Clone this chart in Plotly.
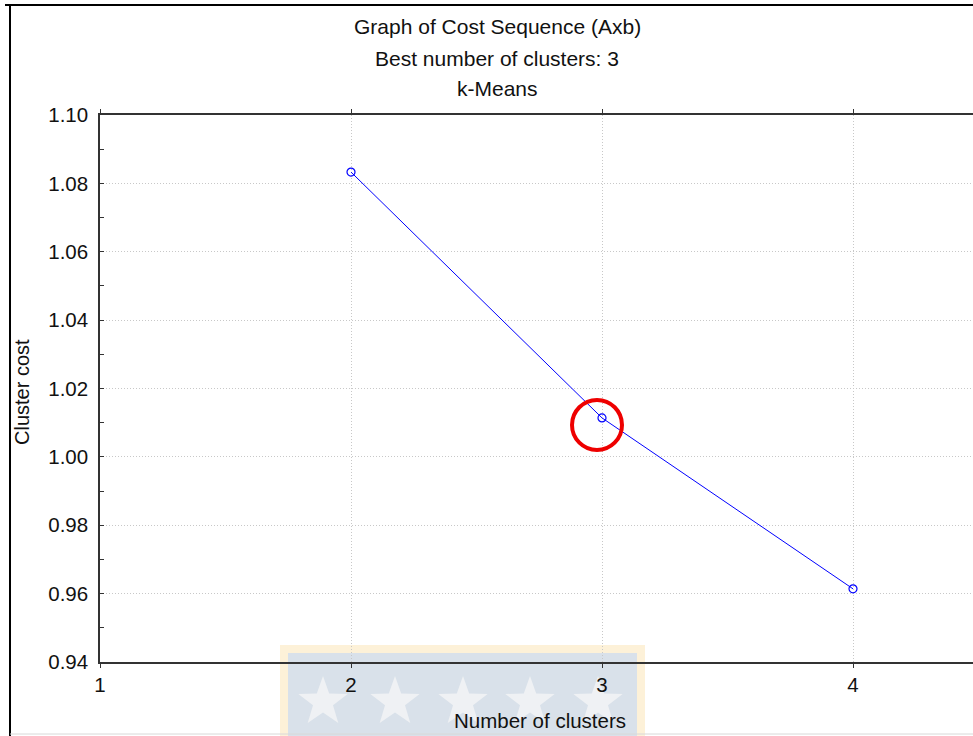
import numpy as np
import plotly.graph_objects as go

# data
clusters = [2, 3, 4]
cluster_cost = [1.0833, 1.0114, 0.9614]
best_k = 3
y_ticks = [0.94, 0.96, 0.98, 1.00, 1.02, 1.04, 1.06, 1.08, 1.10]
x_ticks = [1, 2, 3, 4]

W, H = 973, 736
L, T, B = 100, 115, 74
PW, PH = W - L, H - T - B


def px(x):
    return (x - L) / PW


def py(y):
    return (H - B - y) / PH


def star_path(r_out, r_in):
    pts = []
    for i in range(10):
        r = r_out if i % 2 == 0 else r_in
        a = np.pi / 2 + i * np.pi / 5
        pts.append((r * np.cos(a), r * np.sin(a)))
    return "M" + " L".join(f"{x:.1f},{y:.1f}" for x, y in pts) + " Z"


fig = go.Figure(go.Scatter(
    x=clusters, y=cluster_cost, mode="lines+markers",
    line=dict(color="#0000ff", width=1),
    marker=dict(symbol="circle-open", size=8, color="#0000ff",
                line=dict(width=1.2)),
    showlegend=False,
))

font = "Liberation Sans, Arial, sans-serif"

shapes = [
    # outer frame
    dict(type="line", xref="paper", yref="paper", x0=px(10), x1=px(10),
         y0=py(4), y1=py(736), line=dict(color="black", width=2)),
    dict(type="line", xref="paper", yref="paper", x0=px(5), x1=px(973),
         y0=py(5), y1=py(5), line=dict(color="black", width=2)),
    dict(type="line", xref="paper", yref="paper", x0=px(10), x1=px(973),
         y0=py(734), y1=py(734), line=dict(color="#d8d8d8", width=1)),
    # watermark
    dict(type="rect", xref="paper", yref="paper", x0=px(280), x1=px(645),
         y0=py(645), y1=py(740), fillcolor="#fdf1d8", line_width=0,
         layer="below"),
    dict(type="rect", xref="paper", yref="paper", x0=px(288), x1=px(637),
         y0=py(653), y1=py(740), fillcolor="#d9e1ea", line_width=0,
         layer="below"),
    # highlight of best k
    dict(type="circle", xref="x", yref="y", xsizemode="pixel",
         ysizemode="pixel", xanchor=best_k,
         yanchor=cluster_cost[clusters.index(best_k)],
         x0=-30, x1=20, y0=-32, y1=18,
         line=dict(color="#ee0000", width=4)),
]
for sx in [323, 395, 463, 530, 598]:
    shapes.append(dict(type="path", xref="paper", yref="paper",
                       xsizemode="pixel", ysizemode="pixel",
                       xanchor=px(sx), yanchor=py(702),
                       path=star_path(26, 10.5), fillcolor="#eff1f4",
                       line_width=0, layer="below"))

annotations = []
for txt, yy in [("Graph of Cost Sequence (Axb)", 27),
                ("Best number of clusters: 3", 58), ("k-Means", 89)]:
    annotations.append(dict(text=txt, xref="paper", yref="paper", x=px(497),
                            y=py(yy), xanchor="center", yanchor="middle",
                            showarrow=False, font=dict(size=21, color="#111")))
annotations.append(dict(text="Cluster cost", xref="paper", yref="paper",
                        x=px(22), y=py(392), xanchor="center", yanchor="middle",
                        textangle=-90, showarrow=False,
                        font=dict(size=20, color="#111")))
annotations.append(dict(text="Number of clusters", xref="paper", yref="paper",
                        x=px(540), y=py(720), xanchor="center", yanchor="middle",
                        showarrow=False, font=dict(size=20.5, color="#111")))

fig.update_layout(
    width=W, height=H,
    margin=dict(l=L, r=0, t=T, b=B),
    paper_bgcolor="white", plot_bgcolor="rgba(0,0,0,0)",
    font=dict(family=font, size=20, color="#111"),
    shapes=shapes, annotations=annotations,
)
fig.update_xaxes(
    range=[1, 1 + PW / 251.0], tickvals=x_ticks, ticktext=[str(v) for v in x_ticks],
    showline=True, linecolor="#333", linewidth=1.5, mirror="ticks",
    ticks="outside", ticklen=4, tickcolor="#333",
    showgrid=True, gridcolor="#c8c8c8", griddash="1px,2px", gridwidth=1,
    zeroline=False, tickfont=dict(size=20.5),
)
fig.update_yaxes(
    range=[0.94, 1.10], tickvals=y_ticks, ticktext=[f"{v:.2f}" for v in y_ticks],
    showline=True, linecolor="#333", linewidth=1.5,
    ticks="inside", ticklen=4, tickcolor="#333",
    minor=dict(dtick=0.01, tick0=0.94, ticks="inside", ticklen=4,
               tickcolor="#333", showgrid=False),
    showgrid=True, gridcolor="#c8c8c8", griddash="1px,2px", gridwidth=1,
    zeroline=False, tickfont=dict(size=20.5), ticklabelstandoff=6,
)

fig.write_html("out.html", config={"displayModeBar": False},
               post_script="document.body.style.margin='0';")
